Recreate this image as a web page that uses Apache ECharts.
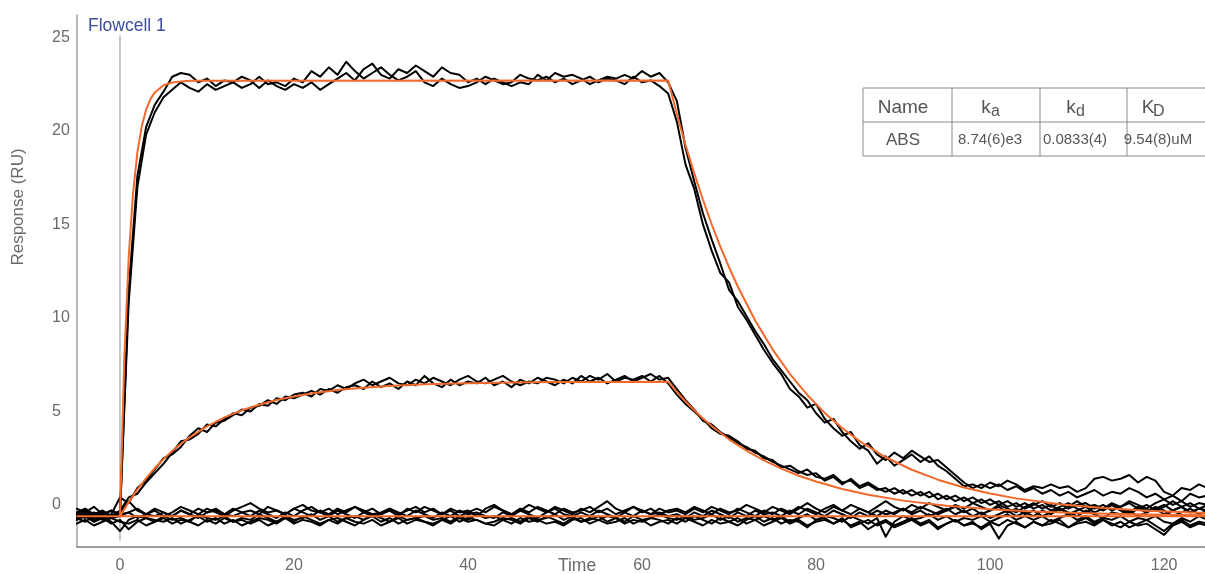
<!DOCTYPE html>
<html>
<head>
<meta charset="utf-8">
<script src="https://cdn.jsdelivr.net/npm/echarts@6/dist/echarts.min.js"></script>
<style>
  html, body { margin: 0; padding: 0; background: #fff; }
  #chart { width: 1205px; height: 574px; }
</style>
</head>
<body>
<div id="chart"></div>
<script>
// time (s), one sample per second
const time = [
  -5, -4, -3, -2, -1, 0, 1, 2, 3, 4,
  5, 6, 7, 8, 9, 10, 11, 12, 13, 14,
  15, 16, 17, 18, 19, 20, 21, 22, 23, 24,
  25, 26, 27, 28, 29, 30, 31, 32, 33, 34,
  35, 36, 37, 38, 39, 40, 41, 42, 43, 44,
  45, 46, 47, 48, 49, 50, 51, 52, 53, 54,
  55, 56, 57, 58, 59, 60, 61, 62, 63, 64,
  65, 66, 67, 68, 69, 70, 71, 72, 73, 74,
  75, 76, 77, 78, 79, 80, 81, 82, 83, 84,
  85, 86, 87, 88, 89, 90, 91, 92, 93, 94,
  95, 96, 97, 98, 99, 100, 101, 102, 103, 104,
  105, 106, 107, 108, 109, 110, 111, 112, 113, 114,
  115, 116, 117, 118, 119, 120, 121, 122, 123, 124,
  125
]

// measured responses (RU)
const high1 = [
  -0.5, -0.3, -0.6, -0.4, -0.7, -0.6, 11.5, 17.6, 20.2, 21.4,
  22.1, 22.9, 23.1, 23.0, 22.6, 22.8, 22.4, 22.7, 22.6, 22.3,
  22.5, 22.9, 22.5, 22.6, 22.4, 22.8, 22.6, 23.2, 22.9, 23.4,
  23.0, 23.7, 23.2, 22.8, 23.1, 23.4, 23.0, 22.7, 22.9, 23.2,
  22.6, 22.4, 22.8, 22.5, 22.3, 22.4, 22.6, 22.9, 22.7, 22.5,
  22.6, 23.0, 22.8, 22.7, 22.9, 22.6, 22.8, 22.5, 22.7, 22.9,
  22.6, 22.8, 22.7, 22.5, 22.9, 22.6, 22.7, 22.4, 22.0, 20.5,
  18.2, 16.9, 15.0, 13.6, 12.4, 11.9, 10.6, 9.9, 9.1, 8.3,
  7.6, 7.0, 6.2, 5.8, 5.2, 5.4, 4.6, 4.1, 3.7, 3.9,
  3.2, 2.9, 2.2, 2.6, 2.1, 2.4, 2.7, 2.3, 2.6, 2.1,
  1.8, 1.4, 1.0, 1.1, 0.9, 1.2, 1.0, 1.3, 1.1, 0.8,
  1.0, 0.9, 1.1, 0.9, 1.0, 0.7, 0.9, 1.4, 1.5, 1.3,
  1.4, 1.6, 1.2, 1.5, 1.3, 0.7, 0.5, 0.9, 0.8, 1.1,
  0.9
]
const high2 = [
  -0.8, -0.6, -0.9, -0.5, -0.7, -0.5, 10.8, 17.0, 19.8, 21.0,
  21.8, 22.2, 22.6, 22.3, 22.1, 22.5, 22.2, 22.4, 22.6, 22.9,
  22.7, 22.3, 22.7, 22.4, 22.2, 22.5, 22.3, 22.6, 22.2, 22.5,
  22.8, 23.1, 22.7, 23.3, 23.6, 23.0, 22.8, 23.3, 23.1, 23.5,
  23.2, 22.9, 23.4, 23.1, 23.0, 22.6, 22.8, 22.5, 22.8, 22.6,
  22.4, 22.6, 22.5, 23.0, 22.7, 23.1, 22.9, 23.0, 22.8, 22.5,
  22.7, 22.9, 22.8, 23.0, 22.8, 23.2, 22.9, 23.1, 22.6, 21.6,
  19.1, 17.3, 15.6, 14.2, 12.9, 11.5, 10.9, 10.1, 9.3, 8.6,
  7.8, 7.2, 6.6, 6.0, 5.6, 4.9, 4.4, 4.6, 3.9, 3.4,
  3.0, 3.3, 2.7, 2.4, 2.8, 2.5, 2.9, 2.6, 2.3, 2.4,
  2.0, 1.6, 1.2, 0.9, 1.1, 0.9, 1.1, 0.8, 1.0, 0.7,
  0.9, 0.6, 0.8, 0.5, 0.7, 0.4, 0.6, 0.8, 0.5, 0.7,
  0.6, 0.9, 0.7, 0.4, 0.6, 0.3, 0.5, 0.2, 0.6, 0.4,
  0.5
]
const mid1 = [
  -0.6, -0.4, -0.7, -0.5, -0.6, -0.3, 0.4, 0.6, 1.2, 1.7,
  2.2, 2.8, 3.4, 3.5, 3.8, 4.3, 4.2, 4.6, 4.9, 4.8,
  5.2, 5.3, 5.6, 5.4, 5.8, 5.7, 5.9, 6.1, 5.9, 6.2,
  6.0, 6.3, 6.4, 6.2, 6.6, 6.3, 6.5, 6.2, 6.6, 6.4,
  6.9, 6.5, 6.3, 6.7, 6.4, 6.6, 6.5, 6.8, 6.4, 6.6,
  6.3, 6.7, 6.5, 6.8, 6.6, 6.4, 6.7, 6.5, 6.9, 6.6,
  6.8, 6.5, 6.7, 6.9, 6.6, 6.8, 7.0, 6.7, 6.8, 6.2,
  5.6, 5.1, 4.5, 4.3, 3.9, 3.6, 3.3, 3.1, 2.8, 2.6,
  2.3, 2.1, 1.9, 1.7, 1.9, 1.5, 1.4, 1.6, 1.2, 1.3,
  0.9, 1.1, 0.8, 0.9, 0.6, 0.8, 0.5, 0.7, 0.4, 0.6,
  0.3, 0.5, 0.2, 0.4, 0.1, 0.3, 0.0, 0.2, -0.1, 0.1,
  -0.2, 0.0, -0.3, -0.1, 0.1, -0.2, -0.4, -0.1, -0.3, 0.0,
  -0.2, -0.4, -0.1, -0.3, -0.2, 0.0, -0.3, -0.1, -0.4, -0.2,
  -0.3
]
const mid2 = [
  -0.7, -0.9, -0.6, -0.8, -0.5, 0.4, 0.1, 0.9, 1.3, 1.9,
  2.5, 2.7, 3.1, 3.7, 4.1, 3.9, 4.4, 4.5, 4.8, 5.1,
  5.0, 5.4, 5.3, 5.7, 5.6, 5.9, 6.0, 5.8, 6.2, 6.1,
  6.4, 6.2, 6.5, 6.7, 6.4, 6.6, 6.8, 6.5, 6.4, 6.7,
  6.5, 6.8, 6.6, 6.4, 6.7, 6.9, 6.6, 6.5, 6.7, 6.9,
  6.6, 6.4, 6.6, 6.5, 6.8, 6.7, 6.5, 6.8, 6.6, 6.9,
  6.7, 7.0, 6.6, 6.8, 6.7, 6.9, 6.6, 6.9, 6.5, 5.9,
  5.4, 5.0, 4.6, 4.1, 3.8, 3.7, 3.4, 3.0, 2.9, 2.5,
  2.4, 2.0, 2.1, 1.8, 1.6, 1.7, 1.3, 1.5, 1.1, 1.4,
  1.0, 1.2, 0.9, 0.7, 0.9, 0.6, 0.8, 0.5, 0.7, 0.3,
  0.5, 0.2, 0.4, 0.1, 0.3, 0.0, 0.2, -0.1, 0.1, -0.2,
  0.0, 0.2, -0.1, 0.1, -0.2, 0.0, 0.1, -0.2, 0.0, -0.3,
  -0.1, 0.1, -0.2, 0.0, -0.3, -0.1, 0.2, -0.1, 0.1, -0.2,
  0.0
]
const base1 = [
  -0.2, -0.4, -0.1, -0.5, -0.3, -0.6, -0.4, -0.2, -0.5, -0.3,
  -0.6, -0.4, -0.1, -0.3, -0.5, -0.2, -0.4, -0.6, -0.3, -0.1,
  0.1, -0.2, -0.4, -0.3, -0.5, -0.2, 0.0, -0.3, -0.4, -0.2,
  -0.5, -0.3, -0.1, -0.4, -0.2, -0.5, -0.3, -0.6, -0.2, -0.4,
  -0.1, -0.3, -0.5, -0.2, -0.4, -0.3, -0.6, -0.2, 0.0, -0.3,
  -0.5, -0.2, -0.4, -0.1, -0.3, -0.5, -0.2, -0.4, -0.3, -0.1,
  -0.4, -0.2, -0.5, -0.3, -0.1, -0.4, -0.2, -0.5, -0.3, -0.2,
  -0.4, -0.1, -0.3, -0.5, -0.2, -0.4, -0.3, 0.0, -0.2, -0.4,
  -0.1, -0.3, -0.5, -0.2, 0.1, -0.2, -0.4, -0.1, -0.3, 0.0,
  -0.2, -0.4, -0.1, 0.2, -0.1, -0.3, 0.0, -0.2, 0.1, -0.1,
  -0.3, 0.0, -0.2, 0.1, -0.1, -0.3, 0.0, -0.2, -0.4, -0.1,
  0.1, -0.2, 0.0, -0.3, -0.1, 0.2, -0.1, 0.0, -0.2, 0.1,
  -0.1, 0.2, 0.0, -0.2, 0.1, 0.3, 0.0, 0.2, -0.1, 0.1,
  0.0
]
const base2 = [
  -0.8, -0.6, -0.9, -0.7, -1.0, -0.8, -1.3, -0.9, -0.7, -0.8,
  -0.9, -0.7, -1.0, -0.8, -0.6, -0.9, -0.7, -1.0, -0.8, -1.1,
  -0.9, -0.7, -0.8, -1.0, -0.7, -0.9, -0.6, -0.8, -1.0, -0.8,
  -0.7, -0.9, -1.1, -0.8, -0.6, -0.9, -0.7, -1.0, -0.8, -0.7,
  -0.9, -1.0, -0.8, -0.6, -0.9, -0.7, -0.8, -1.0, -0.9, -0.7,
  -0.8, -1.0, -0.7, -0.9, -0.6, -0.8, -1.0, -0.7, -0.9, -0.8,
  -0.6, -0.9, -0.7, -1.0, -0.8, -0.9, -0.7, -0.8, -1.0, -0.7,
  -0.9, -0.6, -0.8, -1.0, -0.7, -0.9, -1.1, -0.8, -0.6, -0.9,
  -0.7, -1.0, -0.8, -0.9, -1.2, -0.8, -0.7, -1.0, -0.8, -1.1,
  -0.9, -1.3, -1.0, -0.8, -1.1, -0.9, -0.7, -1.0, -0.8, -1.2,
  -1.0, -0.8, -1.1, -0.9, -1.3, -1.0, -1.8, -1.1, -0.9, -1.2,
  -0.9, -1.1, -0.8, -1.0, -1.2, -0.9, -0.7, -1.0, -0.8, -1.1,
  -0.9, -1.2, -1.0, -0.8, -1.1, -1.4, -1.0, -0.8, -1.1, -0.9,
  -1.0
]
const base3 = [
  -0.5, -0.7, -0.4, -0.6, -0.3, -0.5, -0.4, -0.7, -0.5, -0.6,
  -0.4, -0.6, -0.3, -0.5, -0.7, -0.4, -0.2, -0.5, -0.6, -0.4,
  -0.6, -0.3, -0.5, -0.7, -0.4, -0.6, -0.3, -0.1, -0.4, -0.6,
  -0.3, -0.5, -0.7, -0.4, -0.6, -0.5, -0.2, -0.4, -0.6, -0.3,
  -0.5, -0.7, -0.4, -0.6, -0.3, -0.5, -0.4, -0.6, -0.7, -0.4,
  -0.6, -0.3, -0.5, -0.7, -0.4, -0.2, -0.5, -0.6, -0.4, -0.6,
  -0.3, -0.5, -0.7, -0.4, -0.6, -0.3, -0.5, -0.4, -0.6, -0.5,
  -0.7, -0.4, -0.6, -0.3, -0.5, -0.7, -0.4, -0.6, -0.3, -0.5,
  -0.4, -0.6, -0.3, -0.5, -0.2, -0.4, -0.6, -0.3, -0.5, -0.7,
  -0.4, -0.6, -0.3, -0.5, -0.4, -0.2, -0.5, -0.3, -0.6, -0.4,
  -0.2, -0.5, -0.3, -0.6, -0.4, -0.7, -0.5, -0.3, -0.6, -0.4,
  -0.6, -0.3, -0.5, -0.2, -0.4, -0.6, -0.3, -0.5, -0.7, -0.4,
  -0.5, -0.3, -0.6, -0.4, -0.2, -0.5, -0.3, -0.1, -0.4, -0.2,
  -0.3
]
const base4 = [
  -0.7, -0.5, -0.8, -0.6, -0.9, -1.4, -0.8, -0.6, -0.7, -0.9,
  -0.6, -0.8, -0.7, -0.9, -0.5, -0.7, -0.8, -0.6, -0.9, -0.7,
  -0.8, -0.5, -0.7, -0.9, -0.6, -0.8, -0.7, -0.5, -0.8, -0.6,
  -0.9, -0.7, -0.6, -0.8, -0.5, -0.7, -0.9, -0.6, -0.8, -0.7,
  -0.6, -0.8, -0.7, -0.9, -0.6, -0.8, -0.5, -0.7, -0.6, -0.8,
  -0.7, -0.9, -0.6, -0.8, -0.7, -0.5, -0.8, -0.6, -0.9, -0.7,
  -0.8, -0.6, -0.7, -0.9, -0.6, -0.8, -0.7, -0.5, -0.7, -0.8,
  -0.6, -0.8, -0.7, -0.5, -0.8, -0.6, -0.9, -0.7, -0.8, -0.6,
  -0.8, -0.6, -0.9, -0.7, -0.5, -0.8, -0.6, -0.7, -0.9, -0.6,
  -0.8, -1.0, -0.7, -1.7, -0.9, -0.6, -0.8, -0.7, -0.5, -0.8,
  -0.6, -0.9, -0.7, -0.8, -0.6, -0.9, -0.7, -0.5, -0.8, -0.6,
  -0.8, -0.6, -0.9, -0.7, -0.5, -0.8, -0.6, -0.9, -0.7, -0.8,
  -0.6, -0.9, -0.7, -0.8, -0.6, -0.9, -1.0, -0.7, -0.9, -0.6,
  -0.8
]
const base5 = [
  -0.4, -0.2, -0.5, -0.3, -0.6, -0.4, 0.2, -0.3, -0.5, -0.2,
  -0.4, -0.6, -0.3, -0.5, -0.2, -0.4, -0.3, -0.5, -0.2, -0.4,
  -0.3, -0.5, -0.1, -0.3, -0.5, -0.2, -0.4, -0.6, -0.3, -0.5,
  -0.2, -0.4, -0.1, -0.3, -0.5, -0.4, -0.2, -0.5, -0.3, -0.1,
  -0.4, -0.2, -0.5, -0.3, -0.6, -0.4, -0.2, -0.4, -0.1, -0.3,
  -0.5, -0.3, 0.0, -0.2, -0.4, -0.1, -0.3, -0.5, -0.2, -0.4,
  -0.1, 0.2, -0.2, -0.4, -0.1, -0.3, -0.5, -0.2, -0.4, -0.3,
  -0.5, -0.2, -0.4, -0.1, -0.3, -0.5, -0.2, -0.4, -0.6, -0.3,
  -0.5, -0.2, -0.4, -0.1, -0.3, -0.5, -0.2, 0.0, -0.3, -0.5,
  -0.2, -0.4, -0.6, -0.3, -0.5, -0.2, -0.4, -0.1, -0.3, -0.5,
  -0.3, -0.1, -0.4, -0.2, -0.5, -0.3, -0.1, -0.4, -0.2, -0.5,
  -0.3, -0.6, -0.4, -0.2, -0.5, -0.3, -0.1, -0.4, -0.2, 0.0,
  -0.3, -0.5, -0.2, -0.4, -0.1, -0.3, -0.6, -0.4, -0.2, -0.5,
  -0.3
]
const base6 = [
  -1.0, -0.8, -1.1, -0.9, -0.7, -0.9, -1.0, -0.8, -1.1, -0.9,
  -0.7, -1.0, -0.8, -0.9, -1.1, -0.8, -1.0, -0.7, -0.9, -0.8,
  -1.0, -0.8, -1.1, -0.9, -0.7, -1.0, -0.8, -0.9, -1.1, -0.8,
  -1.0, -0.7, -0.9, -1.0, -0.8, -1.1, -0.9, -0.7, -1.0, -0.8,
  -0.9, -1.1, -0.8, -1.0, -0.7, -0.9, -0.8, -1.0, -1.1, -0.8,
  -1.0, -0.7, -0.9, -0.8, -1.0, -0.9, -1.1, -0.8, -0.7, -1.0,
  -0.8, -1.0, -0.9, -0.7, -1.0, -0.8, -1.1, -0.9, -0.8, -1.0,
  -0.7, -0.9, -1.1, -0.8, -1.0, -0.9, -0.7, -1.0, -0.8, -1.1,
  -0.9, -0.7, -1.0, -0.8, -1.1, -0.9, -0.8, -1.0, -0.7, -1.2,
  -1.0, -0.8, -1.1, -0.9, -1.2, -1.0, -0.8, -1.1, -0.9, -1.3,
  -1.0, -0.8, -1.1, -1.0, -1.2, -0.9, -1.1, -0.8, -1.0, -1.2,
  -0.9, -1.1, -1.0, -0.8, -1.2, -1.0, -0.9, -1.1, -0.8, -1.0,
  -1.2, -0.9, -1.1, -1.0, -1.3, -1.6, -1.1, -0.9, -1.2, -1.0,
  -1.1
]

// fitted curves
const fitHighT = [0, 0.5, 1, 1.5, 2, 2.5, 3, 3.5, 4, 5, 6, 7, 8, 63, 64, 65, 66, 67, 68, 69, 70, 71, 73, 75, 77, 79, 81, 83, 85, 88, 91, 94, 97, 100, 103, 108, 113, 118, 125]
const fitHighV = [-0.6, 7.84, 13.23, 16.66, 18.85, 20.24, 21.13, 21.7, 22.06, 22.44, 22.59, 22.65, 22.68, 22.7, 20.91, 19.25, 17.73, 16.32, 15.01, 13.81, 12.71, 11.68, 9.86, 8.32, 7.0, 5.88, 4.92, 4.11, 3.41, 2.55, 1.88, 1.35, 0.93, 0.61, 0.35, 0.04, -0.17, -0.31, -0.44]
const fitMidT = [0, 1, 2, 3, 4, 5, 6, 7, 8, 10, 12, 14, 16, 18, 20, 22, 25, 28, 31, 35, 40, 45, 50, 55, 63, 64, 65, 66, 67, 68, 70, 72, 74, 76, 78, 80, 83, 86, 90, 95, 100, 105, 110, 115, 120, 125]
const fitMidV = [-0.6, 0.15, 0.82, 1.42, 1.96, 2.45, 2.88, 3.27, 3.61, 4.2, 4.68, 5.06, 5.36, 5.61, 5.8, 5.96, 6.14, 6.27, 6.36, 6.45, 6.51, 6.55, 6.57, 6.58, 6.59, 6.04, 5.53, 5.06, 4.62, 4.22, 3.51, 2.9, 2.38, 1.94, 1.56, 1.25, 0.85, 0.54, 0.23, -0.04, -0.23, -0.35, -0.43, -0.49, -0.52, -0.55]
const fitBaseT = [-5, 125]
const fitBaseV = [-0.6, -0.6]

// injection marker
const injectT = [0, 0]
const injectV = [25.1, -1.9]

const xTicks = [0, 20, 40, 60, 80, 100, 120]
const yTicks = [0, 5, 10, 15, 20, 25]

const tableHead = ['Name', 'k', 'k', 'K']
const tableSub = ['', 'a', 'd', 'D']
const tableRow = ['ABS', '8.74(6)e3', '0.0833(4)', '9.54(8)uM']

const FONT = '"Liberation Sans", Arial, sans-serif'
const zip = (t, v) => t.map((x, i) => [x, v[i]])

const measured = [high1, high2, mid1, mid2, base1, base2, base3, base4, base5, base6]
const fits = [[fitBaseT, fitBaseV], [fitMidT, fitMidV], [fitHighT, fitHighV]]

const series = [{
  type: 'line',
  data: zip(injectT, injectV),
  symbol: 'none',
  silent: true,
  lineStyle: { color: '#c8c8c8', width: 2 },
  z: 1
}]
measured.forEach(v => {
  series.push({
    type: 'line',
    data: zip(time, v),
    symbol: 'none',
    lineStyle: { color: '#000', width: 2, join: 'round', cap: 'round' },
    z: 2
  })
})
fits.forEach(([t, v]) => {
  series.push({
    type: 'line',
    data: zip(t, v),
    symbol: 'none',
    lineStyle: { color: '#f26a2b', width: 2, join: 'round' },
    z: 3
  })
})

// table layout
const colX = [863, 952, 1040, 1127]
const colC = [903, 990, 1075, 1152]
const rowY = [88, 122, 156]
const tableGraphic = []
rowY.forEach(y => {
  tableGraphic.push({ type: 'line', shape: { x1: 863, y1: y, x2: 1205, y2: y }, style: { stroke: '#8a8a8a', lineWidth: 1 } })
})
colX.forEach(x => {
  tableGraphic.push({ type: 'line', shape: { x1: x, y1: 88, x2: x, y2: 156 }, style: { stroke: '#8a8a8a', lineWidth: 1 } })
})
tableHead.forEach((h, i) => {
  const hasSub = tableSub[i] !== ''
  tableGraphic.push({
    type: 'text', x: hasSub ? colC[i] - 4 : colC[i], y: 108,
    style: { text: h, fill: '#555', fontSize: 19, fontFamily: FONT, align: 'center', verticalAlign: 'middle' }
  })
  if (hasSub) {
    tableGraphic.push({
      type: 'text', x: colC[i] + 1, y: 112,
      style: { text: tableSub[i], fill: '#555', fontSize: 16, fontFamily: FONT, align: 'left', verticalAlign: 'middle' }
    })
  }
})
tableRow.forEach((c, i) => {
  tableGraphic.push({
    type: 'text', x: i === 3 ? 1158 : colC[i], y: 140,
    style: { text: c, fill: '#555', fontSize: i === 0 ? 17 : 15, fontFamily: FONT, align: 'center', verticalAlign: 'middle' }
  })
})

const chart = echarts.init(document.getElementById('chart'))
chart.setOption({
  animation: false,
  backgroundColor: '#fff',
  grid: { left: 77, right: 0, top: 15, bottom: 27 },
  xAxis: {
    type: 'value',
    min: -4.94,
    max: 124.7,
    axisLine: { show: true, onZero: false, lineStyle: { color: '#808080', width: 1.5 } },
    axisTick: { show: false },
    splitLine: { show: false },
    axisLabel: {
      customValues: xTicks,
      color: '#6a6a6a',
      fontSize: 16,
      fontFamily: FONT,
      margin: 11
    }
  },
  yAxis: {
    type: 'value',
    min: -2.25,
    max: 26.2,
    axisLine: { show: true, onZero: false, lineStyle: { color: '#a0a0a0', width: 1.5 } },
    axisTick: { show: false },
    splitLine: { show: false },
    axisLabel: {
      customValues: yTicks,
      color: '#6a6a6a',
      fontSize: 16,
      fontFamily: FONT,
      align: 'left',
      margin: 25
    }
  },
  graphic: [
    {
      type: 'text', x: 88, y: 26,
      style: { text: 'Flowcell 1', fill: '#3c4e9e', fontSize: 17.5, fontFamily: FONT, align: 'left', verticalAlign: 'middle' }
    },
    {
      type: 'text', x: 18, y: 207, rotation: Math.PI / 2,
      style: { text: 'Response (RU)', fill: '#6a6a6a', fontSize: 17, fontFamily: FONT, align: 'center', verticalAlign: 'middle' }
    },
    {
      type: 'text', x: 577, y: 566,
      style: { text: 'Time', fill: '#6a6a6a', fontSize: 17.5, fontFamily: FONT, align: 'center', verticalAlign: 'middle' }
    },
    ...tableGraphic
  ],
  series: series
})
</script>
</body>
</html>
